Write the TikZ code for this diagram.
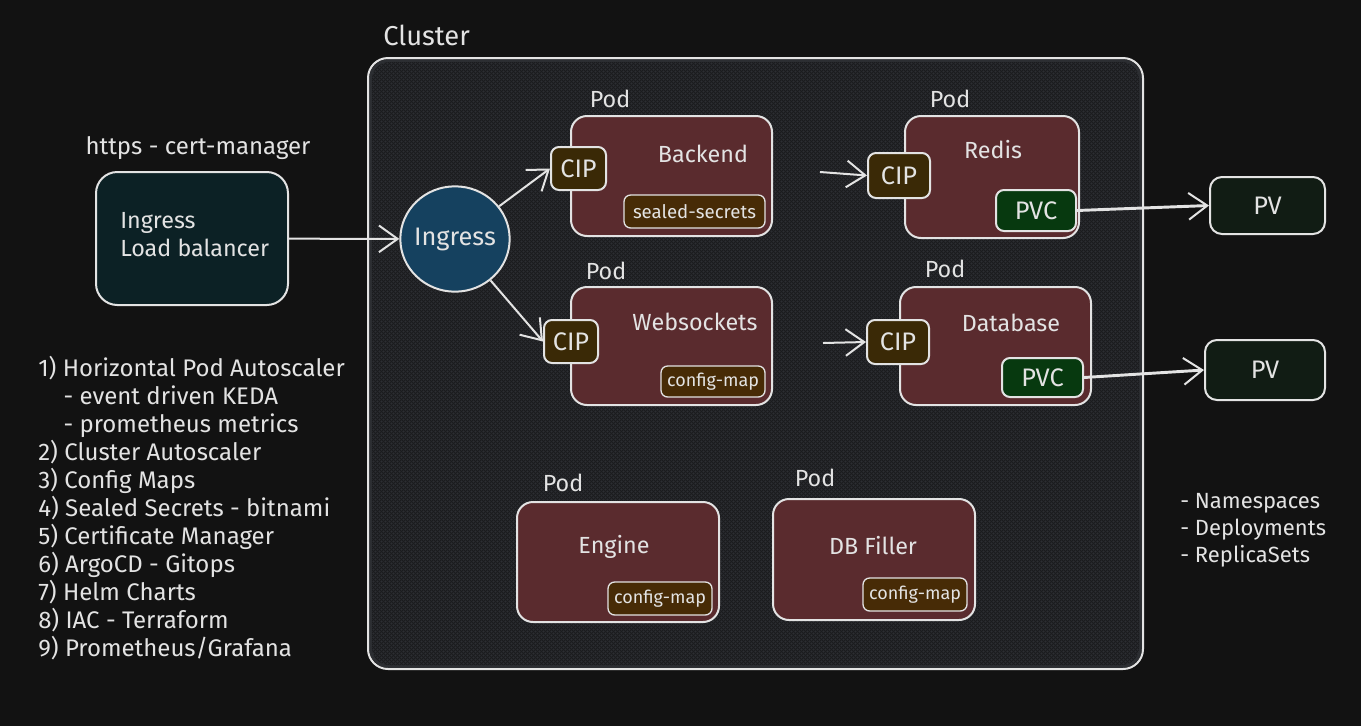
\documentclass[tikz,border=0pt]{standalone}
\usepackage{fontspec}
\setmainfont{Fira Sans}
\usetikzlibrary{arrows.meta,fit,shapes.geometric}
\definecolor{bg}{HTML}{121212}
\definecolor{clusterfill}{HTML}{2C2E32}
\definecolor{hatch}{HTML}{1B1C1E}
\definecolor{ink}{HTML}{E3E3E3}
\definecolor{podfill}{HTML}{5A2B2E}
\definecolor{lbfill}{HTML}{0C2125}
\definecolor{ingfill}{HTML}{15415F}
\definecolor{cipfill}{HTML}{3A2906}
\definecolor{tagfill}{HTML}{472B06}
\definecolor{pvcfill}{HTML}{07390F}
\definecolor{pvfill}{HTML}{111C14}
\tikzset{
  box/.style={draw=ink, line width=1.5pt, rounded corners=12pt, inner sep=0pt},
  podbox/.style={box, fill=podfill},
  cipbox/.style={box, fill=cipfill, rounded corners=6pt},
  tagbox/.style={box, fill=tagfill, rounded corners=5pt, line width=1pt},
  pvcbox/.style={box, fill=pvcfill, rounded corners=6pt},
  pvbox/.style={box, fill=pvfill, rounded corners=9pt},
  lbbox/.style={box, fill=lbfill, rounded corners=16pt},
  txt/.style={text=ink, font=\fontsize{17.5}{21}\selectfont, inner sep=0pt},
  bigtxt/.style={txt, font=\fontsize{19}{22}\selectfont},
  tagtxt/.style={txt, font=\fontsize{13.5}{16}\selectfont},
  arr/.style={draw=ink, line width=1.5pt, -{Straight Barb[length=14pt,width=20pt,line width=1.5pt]}},
  thickarr/.style={arr, line width=2.2pt},
}
\begin{document}
\begin{tikzpicture}[x=0.75pt,y=-0.75pt]
\useasboundingbox (0,0) rectangle (1361,726);
\fill[bg] (0,0) rectangle (1361,726);

% cluster
\node[box, fill=clusterfill, draw=none, rounded corners=15pt, fit={(369,59) (1142,668)}] (cluster) {};
\begin{scope}
\clip[rounded corners=13pt] (372,62) rectangle (1139,665);
\foreach \i in {-612,-608,...,776} {
  \draw[hatch, line width=0.7pt] (369+\i,59) -- (978+\i,668);
  \draw[hatch, line width=0.7pt] (369+\i,668) -- (978+\i,59);
}
\end{scope}
\draw[draw=ink, line width=1.5pt, rounded corners=15pt] (cluster.south west) rectangle (cluster.north east);
\node[txt, font=\fontsize{20.5}{24}\selectfont, anchor=base west] (clusterlbl) at (383,45) {Cluster};

% load balancer
\node[lbbox, fit={(96,172) (288,305)}] (lb) {};
\node[txt, anchor=base west] (lbt1) at (120,228) {Ingress};
\node[txt, anchor=base west] (lbt2) at (120,256) {Load balancer};
\node[txt, font=\fontsize{18}{21}\selectfont, anchor=base] (https) at (198,154) {https - cert-manager};

% ingress circle
\node[draw=ink, line width=1.5pt, fill=ingfill, ellipse, minimum width=82pt, minimum height=79pt, inner sep=0pt, label={[bigtxt]center:Ingress}] (ing) at (455,239) {};

% backend
\node[podbox, fit={(571,116) (772,236)}] (backend) {};
\node[txt, anchor=base] (backendt) at (703,162) {Backend};
\node[txt, anchor=base] (pod1) at (610,107) {Pod};
\node[tagbox, fit={(624,195) (765,228)}, label={[tagtxt, font=\fontsize{14}{16}\selectfont]center:sealed-secrets}] (ss) {};
\node[cipbox, fit={(551,147) (606,190)}, label={[bigtxt]center:CIP}] (cip1) {};

% websockets
\node[podbox, fit={(571,287) (772,405)}] (ws) {};
\node[txt, anchor=base] (wst) at (695,330) {Websockets};
\node[txt, anchor=base] (pod2) at (606,279) {Pod};
\node[tagbox, fit={(661,366) (765,397)}, label={[tagtxt]center:config-map}] (cm1) {};
\node[cipbox, fit={(544,320) (598,363)}, label={[bigtxt]center:CIP}] (cip2) {};

% redis
\node[podbox, fit={(905,116) (1079,238)}] (redis) {};
\node[txt, anchor=base] (redist) at (993,158) {Redis};
\node[txt, anchor=base] (pod3) at (950,107) {Pod};
\node[pvcbox, fit={(996,190) (1076,231)}, label={[bigtxt]center:PVC}] (pvc1) {};
\node[cipbox, fit={(868,153) (930,198)}, label={[bigtxt]center:CIP}] (cip3) {};

% database
\node[podbox, fit={(900,287) (1091,405)}] (db) {};
\node[txt, anchor=base] (dbt) at (1011,331) {Database};
\node[txt, anchor=base] (pod4) at (945,277) {Pod};
\node[pvcbox, fit={(1002,358) (1083,397)}, label={[bigtxt]center:PVC}] (pvc2) {};
\node[cipbox, fit={(867,320) (929,364)}, label={[bigtxt]center:CIP}] (cip4) {};

% PVs
\node[pvbox, fit={(1210,177) (1325,234)}, label={[bigtxt]center:PV}] (pv1) {};
\node[pvbox, fit={(1205,340) (1325,400)}, label={[bigtxt]center:PV}] (pv2) {};

% engine
\node[podbox, fit={(517,502) (719,622)}] (engine) {};
\node[txt, anchor=base] (enginet) at (614,553) {Engine};
\node[txt, anchor=base] (pod5) at (563,491) {Pod};
\node[tagbox, fit={(608,582) (712,615)}, label={[tagtxt]center:config-map}] (cm2) {};

% db filler
\node[podbox, fit={(773,499) (975,620)}] (filler) {};
\node[txt, anchor=base] (fillert) at (873,554) {DB Filler};
\node[txt, anchor=base] (pod6) at (815,486) {Pod};
\node[tagbox, fit={(863,578) (967,611)}, label={[tagtxt]center:config-map}] (cm3) {};

% connectors
\draw[arr] (lb) -- (ing);
\draw[arr] (ing) -- (cip1.west);
\draw[arr] (ing) -- (cip2.west);
\coordinate (rin) at (820,172);
\coordinate (din) at (823,343);
\draw[arr] (rin) -- (cip3.west);
\draw[arr] (din) -- (cip4.west);
\draw[thickarr] (pvc1.east) -- (pv1.west);
\draw[thickarr] (pvc2.east) -- (pv2.west);

% left list
\node[txt, anchor=north west, align=left, font=\fontsize{18}{21}\selectfont] (list) at (38,356) {%
1) Horizontal Pod Autoscaler\\
\hspace*{19pt}- event driven KEDA\\
\hspace*{19pt}- prometheus metrics\\
2) Cluster Autoscaler\\
3) Config Maps\\
4) Sealed Secrets - bitnami\\
5) Certificate Manager\\
6) ArgoCD - Gitops\\
7) Helm Charts\\
8) IAC - Terraform\\
9) Prometheus/Grafana};

% right list
\node[txt, anchor=north west, align=left, font=\fontsize{16.5}{20.3}\selectfont] (rlist) at (1180,493) {%
- Namespaces\\
- Deployments\\
- ReplicaSets};
\end{tikzpicture}
\end{document}
